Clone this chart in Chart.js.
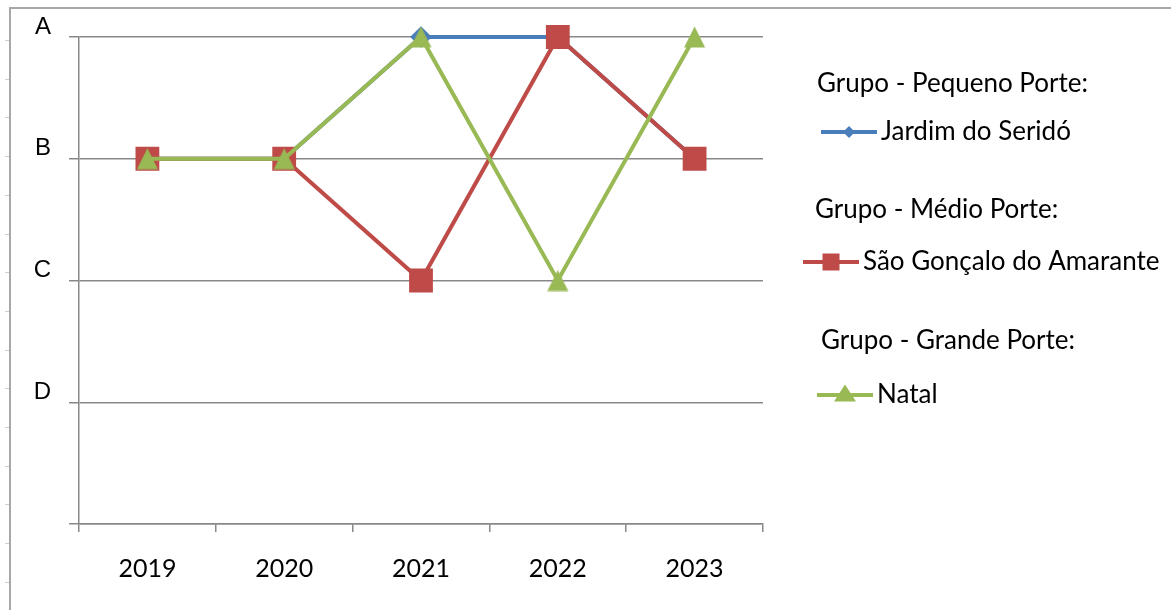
<!DOCTYPE html>
<html>
<head>
<meta charset="utf-8">
<script src="https://cdn.jsdelivr.net/npm/chart.js@4/dist/chart.umd.min.js"></script>
<style>
  html, body { margin: 0; padding: 0; background: #fff; }
  #wrap { width: 1171px; height: 610px; }
</style>
</head>
<body>
<div id="wrap"><canvas id="myChart" width="1171" height="610"></canvas></div>
<script>
// Anos avaliados
const years = ['2019', '2020', '2021', '2022', '2023'];
// Conceitos: o índice é o valor no eixo (0 = base)
const grades = ['', 'D', 'C', 'B', 'A'];

// Conceito por município (A=4, B=3, C=2, D=1)
const jardim = [3, 3, 4, 4, 3];
const saoGoncalo = [3, 3, 2, 4, 3];
const natal = [3, 3, 4, 2, 4];

const cities = ['Jardim do Seridó', 'São Gonçalo do Amarante', 'Natal'];
const groups = ['Grupo - Pequeno Porte:', 'Grupo - Médio Porte:', 'Grupo - Grande Porte:'];

const textFont = 'Lato, "Open Sans", sans-serif';

// triângulo do Natal, mais alto que o triângulo padrão do Chart.js
function triangleSprite(w, h, color) {
    const c = document.createElement('canvas');
    c.width = w + 2;
    c.height = h + 1;
    const g = c.getContext('2d');
    g.fillStyle = color;
    g.beginPath();
    g.moveTo(c.width / 2, 0.5);
    g.lineTo(c.width - 1, h + 0.5);
    g.lineTo(1, h + 0.5);
    g.closePath();
    g.fill();
    return c;
}

function drawMarker(ctx, style, x, y, size, color) {
    ctx.save();
    ctx.fillStyle = color;
    ctx.beginPath();
    if (style === 'rect') {
        ctx.rect(x - size / 2, y - size / 2, size, size);
        ctx.fill();
    } else if (style === 'rectRot') {
        const r = size / 2;
        ctx.moveTo(x, y - r);
        ctx.lineTo(x + r, y);
        ctx.lineTo(x, y + r);
        ctx.lineTo(x - r, y);
        ctx.closePath();
        ctx.fill();
    } else {
        const tri = triangleSprite(size, 17, color);
        ctx.drawImage(tri, x - tri.width / 2, y - tri.height / 2 - 2);
    }
    ctx.restore();
}

// página de fundo: moldura e réguas
const pageFrame = {
    id: 'pageFrame',
    beforeDraw(chart) {
        const ctx = chart.ctx;
        ctx.save();
        ctx.fillStyle = '#fff';
        ctx.fillRect(0, 0, chart.width, chart.height);
        ctx.strokeStyle = '#a8a8a8';
        ctx.lineWidth = 2;
        ctx.beginPath();
        ctx.moveTo(10, chart.height);
        ctx.lineTo(10, 8);
        ctx.lineTo(chart.width, 8);
        ctx.stroke();
        ctx.strokeStyle = '#c8cedb';
        ctx.lineWidth = 1;
        for (let y = 40; y < chart.height; y += 38.7) {
            ctx.beginPath();
            ctx.moveTo(5, Math.round(y) + 0.5);
            ctx.lineTo(9, Math.round(y) + 0.5);
            ctx.stroke();
        }
        ctx.restore();
    }
};

// legenda agrupada por porte do município
const groupedLegend = {
    id: 'groupedLegend',
    afterDraw(chart) {
        const ctx = chart.ctx;
        const rows = [
            { titleX: 817, titleY: 84, lineX: 821, rowY: 132, size: 12 },
            { titleX: 815, titleY: 210, lineX: 803, rowY: 262, size: 17 },
            { titleX: 821, titleY: 341, lineX: 817, rowY: 395, size: 22 }
        ];
        ctx.save();
        ctx.font = '26px ' + textFont;
        ctx.textBaseline = 'middle';
        chart.data.datasets.forEach((ds, i) => {
            const row = rows[i];
            ctx.fillStyle = '#000';
            ctx.fillText(groups[i], row.titleX, row.titleY);
            ctx.strokeStyle = ds.borderColor;
            ctx.lineWidth = 4;
            ctx.beginPath();
            ctx.moveTo(row.lineX, row.rowY);
            ctx.lineTo(row.lineX + 56, row.rowY);
            ctx.stroke();
            const style = typeof ds.pointStyle === 'string' ? ds.pointStyle : 'triangle';
            drawMarker(ctx, style, row.lineX + 28, row.rowY, row.size, ds.borderColor);
            ctx.fillStyle = '#000';
            ctx.fillText(ds.label, row.lineX + 60, row.rowY);
        });
        ctx.restore();
    }
};

const ctx = document.getElementById('myChart');
const myChart = new Chart(ctx, {
    type: 'line',
    data: {
        labels: years,
        datasets: [{
            label: cities[0],
            data: jardim,
            borderColor: '#4a7ebb',
            pointBackgroundColor: '#4a7ebb',
            pointBorderColor: '#4a7ebb',
            pointStyle: 'rectRot',
            pointRadius: 8,
            borderWidth: 4,
            clip: false,
            order: 3
        }, {
            label: cities[1],
            data: saoGoncalo,
            borderColor: '#be4b48',
            pointBackgroundColor: '#be4b48',
            pointBorderColor: '#be4b48',
            pointStyle: 'rect',
            pointRadius: 14,
            borderWidth: 4,
            clip: false,
            order: 2
        }, {
            label: cities[2],
            data: natal,
            borderColor: '#98b954',
            pointBackgroundColor: '#98b954',
            pointBorderColor: '#98b954',
            pointStyle: triangleSprite(21, 21, '#98b954'),
            pointRadius: 11,
            borderWidth: 4,
            clip: false,
            order: 1
        }]
    },
    options: {
        responsive: false,
        animation: false,
        lineTension: 0,
        layout: {
            padding: { left: 0, right: 408, top: 37, bottom: 0 }
        },
        elements: {
            point: { borderWidth: 0, hoverRadius: 14 }
        },
        scales: {
            x: {
                offset: true,
                afterFit: s => { s.height = 86; },
                grid: {
                    offset: true,
                    drawOnChartArea: false,
                    tickLength: 8,
                    color: '#888',
                    lineWidth: 1.5
                },
                border: { color: '#888', width: 1.5 },
                ticks: {
                    padding: 22,
                    color: '#000',
                    font: { family: textFont, size: 25 }
                }
            },
            y: {
                min: 0,
                max: 4,
                afterFit: s => { s.width = 79; },
                grid: {
                    tickLength: 10,
                    color: '#888',
                    lineWidth: 1.5
                },
                border: { color: '#888', width: 1.5 },
                ticks: {
                    stepSize: 1,
                    padding: 18,
                    labelOffset: -10,
                    color: '#000',
                    font: { family: 'Liberation Sans, Arial, sans-serif', size: 24 },
                    callback: v => grades[v]
                }
            }
        },
        plugins: {
            legend: { display: false },
            tooltip: { enabled: false }
        }
    },
    plugins: [pageFrame, groupedLegend]
});
</script>
</body>
</html>
